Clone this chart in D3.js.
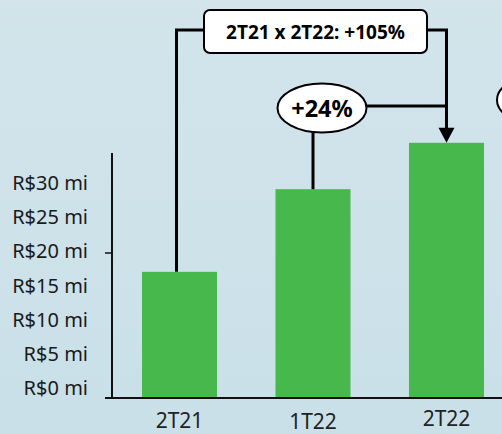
<!DOCTYPE html>
<html>
<head>
<meta charset="utf-8">
<script src="https://cdn.jsdelivr.net/npm/d3@7"></script>
<style>
  html, body { margin: 0; padding: 0; }
  body { width: 502px; height: 434px; overflow: hidden; }
</style>
</head>
<body>
<svg id="chart" width="502" height="434"></svg>
<script>
// values (R$ mi)
const periods = ["2T21", "1T22", "2T22"];
const revenue = [17.4, 28.8, 35.2];
const yTickLabels = [0, 5, 10, 15, 20, 25, 30];
const totalGrowth = "2T21 x 2T22: +105%";
const qoqGrowth = "+24%";

const width = 502;
const height = 434;
const baseY = 398;

const svg = d3.select("#chart");

// background
const grad = svg.append("defs").append("linearGradient")
    .attr("id", "bg").attr("x1", 0).attr("y1", 0).attr("x2", 0).attr("y2", 1);
grad.append("stop").attr("offset", "0%").attr("stop-color", "#d3e4eb");
grad.append("stop").attr("offset", "100%").attr("stop-color", "#c9e0e8");
svg.append("rect").attr("width", width).attr("height", height).attr("fill", "url(#bg)");

// scales
const x = d3.scaleBand()
    .domain(periods)
    .range([112, 514])
    .paddingInner(0.438)
    .paddingOuter(0.2247);

const y = d3.scaleLinear().domain([0, 20]).range([baseY, 253]);

// labels are spaced on their own in the original
const yLabel = d3.scaleLinear().domain([0, 30]).range([388, 183]);

// bars
svg.selectAll("rect.bar")
    .data(revenue)
    .join("rect")
    .attr("class", "bar")
    .attr("x", (d, i) => x(periods[i]))
    .attr("y", d => y(d))
    .attr("width", x.bandwidth())
    .attr("height", d => baseY - y(d))
    .attr("fill", "#46b84c");

// axes
svg.append("line")
    .attr("x1", 112).attr("x2", 112).attr("y1", 153).attr("y2", baseY)
    .attr("stroke", "#111").attr("stroke-width", 2);
svg.append("line")
    .attr("x1", 105).attr("x2", width).attr("y1", baseY).attr("y2", baseY)
    .attr("stroke", "#111").attr("stroke-width", 2);
svg.append("line")
    .attr("x1", 105).attr("x2", 112).attr("y1", y(20)).attr("y2", y(20))
    .attr("stroke", "#111").attr("stroke-width", 1.5);

svg.selectAll("text.ylab")
    .data(yTickLabels)
    .join("text")
    .attr("class", "ylab")
    .attr("x", 88)
    .attr("y", d => yLabel(d))
    .attr("dy", "0.35em")
    .attr("text-anchor", "end")
    .attr("font-family", "Noto Sans")
    .attr("font-size", 20)
    .attr("fill", "#1a1a1a")
    .text(d => `R$${d} mi`);

svg.selectAll("text.xlab")
    .data(periods)
    .join("text")
    .attr("class", "xlab")
    .attr("x", d => x(d) + x.bandwidth() / 2)
    .attr("y", (d, i) => [428, 429, 426][i])
    .attr("text-anchor", "middle")
    .attr("font-family", "Noto Sans")
    .attr("font-size", 21)
    .attr("fill", "#222")
    .text(d => d);

// annotations
const cx = i => x(periods[i]) + x.bandwidth() / 2;
const line = pts => svg.append("path")
    .attr("d", d3.line()(pts))
    .attr("fill", "none").attr("stroke", "#000").attr("stroke-width", 3);

// bracket 2T21 -> 2T22
line([[cx(0) - 3, y(revenue[0])], [cx(0) - 3, 30], [204, 30]]);
line([[427, 30], [cx(2), 30], [cx(2), y(revenue[2]) - 14]]);
svg.append("path")
    .attr("d", d3.line()([[cx(2) - 8, y(revenue[2]) - 15], [cx(2) + 8, y(revenue[2]) - 15], [cx(2), y(revenue[2])]]) + "Z")
    .attr("fill", "#000");

svg.append("rect")
    .attr("x", 204).attr("y", 10).attr("width", 223).attr("height", 43)
    .attr("rx", 6).attr("fill", "#fff").attr("stroke", "#000").attr("stroke-width", 2);
svg.append("text")
    .attr("x", 315.5).attr("y", 32).attr("dy", "0.35em")
    .attr("text-anchor", "middle")
    .attr("font-family", "Noto Sans").attr("font-weight", "bold").attr("font-size", 19)
    .attr("fill", "#000")
    .text(totalGrowth);

// +24% bubble
line([[cx(1), y(revenue[1])], [cx(1), 130]]);
line([[366, 106], [cx(2), 106]]);
svg.append("ellipse")
    .attr("cx", 322).attr("cy", 108).attr("rx", 44.5).attr("ry", 24.5)
    .attr("fill", "#fff").attr("stroke", "#000").attr("stroke-width", 2);
svg.append("text")
    .attr("x", 322).attr("y", 109).attr("dy", "0.35em")
    .attr("text-anchor", "middle")
    .attr("font-family", "Noto Sans").attr("font-weight", "bold").attr("font-size", 23.5)
    .attr("fill", "#000")
    .text(qoqGrowth);

// bubble cut by the right edge
svg.append("ellipse")
    .attr("cx", 541).attr("cy", 100).attr("rx", 44).attr("ry", 25)
    .attr("fill", "#fff").attr("stroke", "#000").attr("stroke-width", 2);
</script>
</body>
</html>
